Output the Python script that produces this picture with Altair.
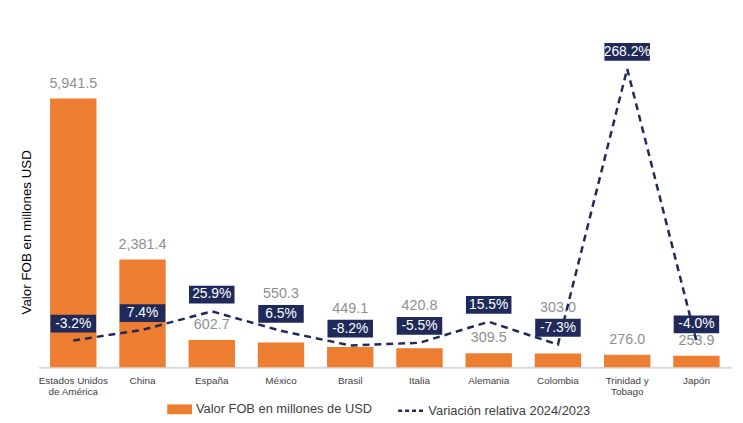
import altair as alt
import pandas as pd

categories = ["Estados Unidos de América", "China", "España", "México", "Brasil",
              "Italia", "Alemania", "Colombia", "Trinidad y Tobago", "Japón"]
fob_values = [5941.5, 2381.4, 602.7, 550.3, 449.1, 420.8, 309.5, 303.0, 276.0, 253.9]
pct_change = [-3.2, 7.4, 25.9, 6.5, -8.2, -5.5, 15.5, -7.3, 268.2, -4.0]

bar_series = "Valor FOB en millones de USD"
line_series = "Variación relativa 2024/2023"

df = pd.DataFrame({"cat": categories, "fob": fob_values, "pct": pct_change})

ORANGE = "#ED7D31"
NAVY = "#1F2A5A"
FONT = "Liberation Sans"

# layout constants
H = 334
W = 700
FOB_MAX = 7300
PCT_MIN, PCT_MAX = -30, 300
BOX_OFF = 17      # box centre above the line point (px)
BOX_H = 18
LAB_GAP = 8       # gap between bar top and its value label (px)
LAB_H = 14

label_expr = ("datum.label == 'Estados Unidos de América' ? ['Estados Unidos', 'de América'] : "
              "datum.label == 'Trinidad y Tobago' ? ['Trinidad y', 'Tobago'] : datum.label")

x = alt.X("cat:N", sort=categories, title=None,
          scale=alt.Scale(paddingInner=0.33, paddingOuter=0.165),
          axis=alt.Axis(labelExpr=label_expr, labelAngle=0, labelFontSize=10,
                        labelColor="#404040", labelFont=FONT, labelPadding=8,
                        labelLineHeight=11, labelBaseline="top",
                        domainColor="#D9D9D9", domainWidth=2, ticks=False, grid=False))

y_bar = alt.Y("fob:Q", scale=alt.Scale(domain=[0, FOB_MAX], nice=False, zero=True),
              axis=alt.Axis(title="Valor FOB en millones USD", labels=False, ticks=False,
                            domain=False, grid=False, titleFontSize=13.5, titleFont=FONT,
                            titleFontWeight="normal", titleColor="#000000",
                            titleX=-12, titleY=197, titleAngle=-90,
                            titleBaseline="middle", titleAlign="center"))

y_pct = alt.Y("pct:Q", scale=alt.Scale(domain=[PCT_MIN, PCT_MAX], nice=False, zero=False),
              axis=None)

base = alt.Chart(df)

LEG_Y = 364

bars = base.mark_bar().encode(
    x=x,
    y=y_bar,
    fill=alt.Fill("series:N",
                  scale=alt.Scale(domain=[bar_series], range=[ORANGE]),
                  legend=alt.Legend(title=None, orient="none", legendX=130, legendY=LEG_Y,
                                    symbolType="M-1,-0.4H1V0.4H-1Z", symbolSize=625,
                                    symbolStrokeWidth=0, labelFontSize=13, labelFont=FONT,
                                    labelColor="#404040", labelOffset=4, padding=0,
                                    labelLimit=0)),
).transform_calculate(series=f"'{bar_series}'")

# value labels: just above the bar, or above the percentage box when they would collide
bar_labels = base.mark_text(baseline="bottom", fontSize=14.5, font=FONT,
                            color="#8F8F8F").encode(
    x=alt.X("cat:N", sort=categories),
    y=alt.Y("lab_y:Q"),
    text=alt.Text("fob:Q", format=",.1f"),
).transform_calculate(
    pt_px=f"(datum.pct - ({PCT_MIN})) / ({PCT_MAX} - ({PCT_MIN})) * {H}",
    bar_px=f"datum.fob / {FOB_MAX} * {H}",
).transform_calculate(
    box_lo=f"datum.pt_px + {BOX_OFF} - {BOX_H / 2}",
    box_hi=f"datum.pt_px + {BOX_OFF} + {BOX_H / 2}",
    lab_lo=f"datum.bar_px + {LAB_GAP}",
).transform_calculate(
    lab_px=f"(datum.lab_lo < datum.box_hi && datum.lab_lo + {LAB_H} > datum.box_lo) "
           f"? datum.box_hi + 4 : datum.lab_lo",
).transform_calculate(
    lab_y=f"datum.lab_px / {H} * {FOB_MAX}",
)

bar_layer = alt.layer(bars, bar_labels)

line = base.mark_line(strokeWidth=2.5, strokeDash=[7, 5]).encode(
    x=alt.X("cat:N", sort=categories),
    y=y_pct,
    stroke=alt.Stroke("series:N",
                      scale=alt.Scale(domain=[line_series], range=[NAVY]),
                      legend=alt.Legend(title=None, orient="none", legendX=362, legendY=LEG_Y,
                                        symbolType="stroke", symbolSize=625,
                                        symbolStrokeWidth=2.5, symbolDash=[4, 3],
                                        labelFontSize=13, labelFont=FONT,
                                        labelColor="#404040", labelOffset=4, padding=0,
                                        labelLimit=0)),
).transform_calculate(series=f"'{line_series}'")

boxes = base.mark_rect(width=46, height=BOX_H, yOffset=-BOX_OFF, color=NAVY).encode(
    x=alt.X("cat:N", sort=categories),
    y=alt.Y("pct:Q"),
)

pct_text = base.mark_text(fontSize=14, font=FONT, color="white", dy=-BOX_OFF,
                          baseline="middle").encode(
    x=alt.X("cat:N", sort=categories),
    y=alt.Y("pct:Q"),
    text=alt.Text("pct_label:N"),
).transform_calculate(
    pct_label="(datum.pct < 0 ? '-' : '') + format(abs(datum.pct), '.1f') + '%'"
)

line_layer = alt.layer(line, boxes, pct_text)

chart = alt.layer(bar_layer, line_layer).resolve_scale(y="independent").properties(
    width=W,
    height=H,
    autosize=alt.AutoSizeParams(type="none"),
    padding={"left": 31, "top": 27, "right": 4, "bottom": 50},
).configure_view(stroke=None)

chart.save("out.html", embed_options={"renderer": "svg", "actions": False})
